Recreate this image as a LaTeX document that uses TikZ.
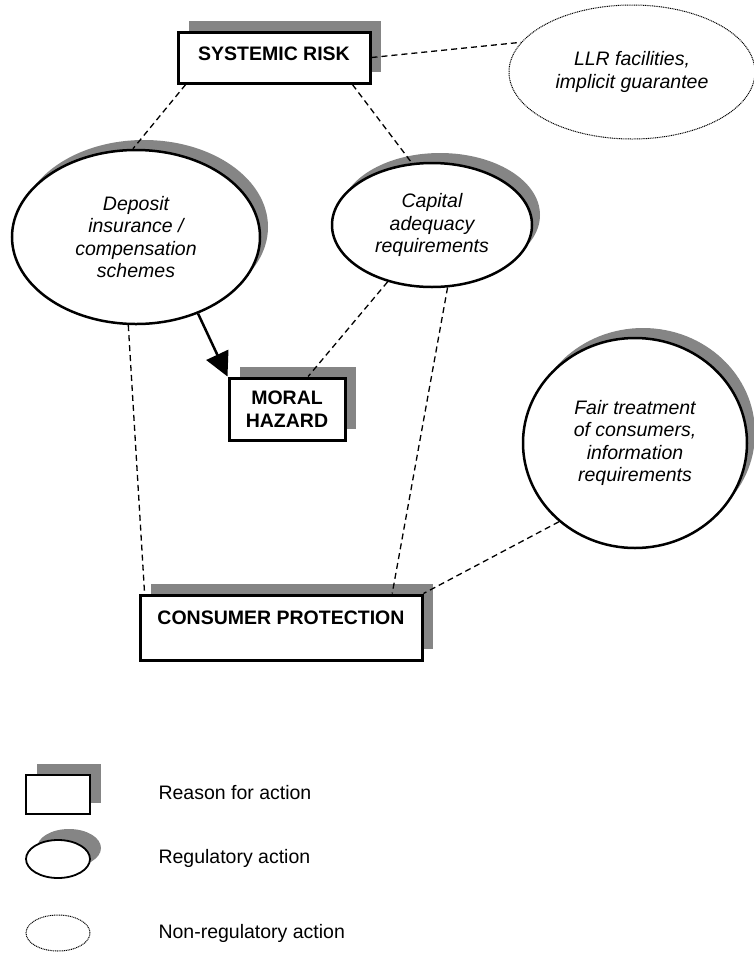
\documentclass[tikz,border=0pt]{standalone}
\usepackage{fontspec}
\setmainfont{Liberation Sans}
\usetikzlibrary{shapes.geometric,shadows,arrows.meta}
\begin{document}
\begin{tikzpicture}[x=1pt,y=1pt]
\tikzset{
 shad/.style={drop shadow={shadow xshift=11pt,shadow yshift=11pt,fill=black!48,opacity=1}},
 eshad/.style={drop shadow={shadow xshift=8pt,shadow yshift=10pt,fill=black!48,opacity=1}},
 reason/.style={draw, line width=3pt, fill=white, shad, rectangle, inner sep=0pt,
   font=\fontsize{19.5}{22.5}\selectfont\bfseries, align=center},
 reg/.style={draw, ellipse, line width=2.5pt, fill=white, eshad, inner sep=0pt,
   font=\fontsize{19.5}{22.5}\selectfont\itshape, align=center},
 nonreg/.style={draw, ellipse, line width=1pt, dash pattern=on 1pt off 0.8pt, inner sep=0pt,
   font=\fontsize{19.5}{22.5}\selectfont\itshape, align=center},
 link/.style={line width=1.3pt, dash pattern=on 6pt off 4pt},
 legtext/.style={anchor=west, font=\fontsize{19.5}{22}\selectfont}
}
\useasboundingbox (0,0) rectangle (754,-954);

% main nodes
\node[reason, minimum width=192pt, minimum height=51pt, text height=14pt, text depth=9pt] (sr) at (274,-57.5) {SYSTEMIC RISK};
\node[nonreg, minimum width=246pt, minimum height=134pt] (llr) at (632,-72) {LLR facilities,\\implicit guarantee};
\node[reg, minimum width=248pt, minimum height=174pt] (dep) at (136,-237) {Deposit\\insurance /\\compensation\\schemes};
\node[reg, minimum width=200pt, minimum height=124pt] (cap) at (432,-225) {Capital\\adequacy\\requirements};
\node[reason, minimum width=116pt, minimum height=62pt] (mh) at (287,-409) {MORAL\\HAZARD};
\node[reg, minimum width=224pt, minimum height=210pt] (fair) at (635,-443) {Fair treatment\\of consumers,\\information\\requirements};
\node[reason, minimum width=282pt, minimum height=65pt, text height=14pt, text depth=20pt] (cp) at (281,-627.5) {CONSUMER PROTECTION};

% connectors
\draw[link] (sr.east) -- (llr.165);
\draw[link] (sr.-163) -- (dep.92);
\draw[link] (sr.-19) -- (cap.108);
\draw[link] (cap.232) -- (mh.57);
\draw[link] (cap.-76) -- (cp.17.7);
\draw[link] (dep.265) -- (cp.166);
\draw[link] (fair.226.5) -- (cp.north east);
\draw[line width=2.5pt, -{Triangle[length=24pt,width=24pt]}] (dep.-51.6) -- (mh.north west);

% legend
\node[draw, line width=1.5pt, fill=white, shad, rectangle, minimum width=64pt, minimum height=39pt, inner sep=0pt] (lr) at (58,-794.5) {};
\node[draw, ellipse, line width=1.8pt, fill=white, shad, minimum width=64pt, minimum height=38pt, inner sep=0pt] (le) at (58,-859) {};
\node[draw, ellipse, line width=1pt, dash pattern=on 1pt off 0.8pt, minimum width=64pt, minimum height=36pt, inner sep=0pt] (ln) at (58,-933) {};
\node[legtext] (lrt) at (155,-793) {Reason for action};
\node[legtext] (let) at (155,-858) {Regulatory action};
\node[legtext] (lnt) at (155,-933) {Non-regulatory action};
\end{tikzpicture}
\end{document}
